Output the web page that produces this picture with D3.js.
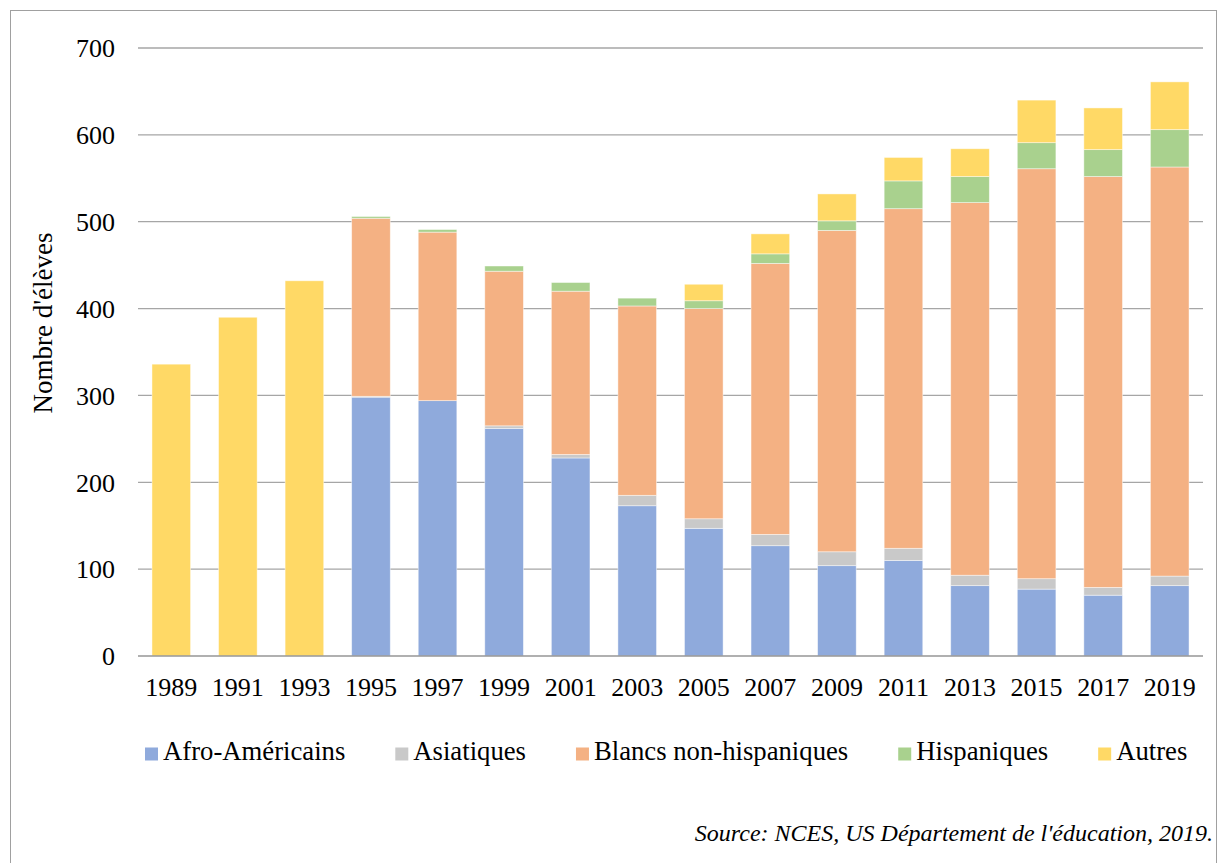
<!DOCTYPE html>
<html>
<head>
<meta charset="utf-8">
<script src="https://cdn.jsdelivr.net/npm/d3@7/dist/d3.min.js"></script>
<style>
  html, body { margin: 0; padding: 0; background: #fff; }
  svg { display: block; }
  text { font-family: "Liberation Serif", "Times New Roman", serif; fill: #000; }
</style>
</head>
<body>
<svg id="chart" width="1221" height="863"></svg>
<script>
// Enrolment by group, every other year
const years = ["1989","1991","1993","1995","1997","1999","2001","2003","2005","2007","2009","2011","2013","2015","2017","2019"];
const afroAmericains = [0, 0, 0, 298, 294, 262, 228, 173, 147, 127, 104, 110, 81, 77, 70, 81];
const asiatiques     = [0, 0, 0, 1, 0, 3, 4, 12, 11, 13, 16, 14, 12, 12, 9, 11];
const blancs         = [0, 0, 0, 205, 194, 178, 188, 218, 242, 312, 370, 391, 429, 472, 473, 471];
const hispaniques    = [0, 0, 0, 2, 3, 6, 10, 9, 9, 11, 11, 32, 30, 30, 31, 43];
const autres         = [336, 390, 432, 0, 0, 0, 0, 0, 19, 23, 31, 27, 32, 49, 48, 55];

const seriesNames = ["Afro-Américains", "Asiatiques", "Blancs non-hispaniques", "Hispaniques", "Autres"];
const seriesValues = [afroAmericains, asiatiques, blancs, hispaniques, autres];
const seriesColors = ["#8FAADC", "#C9C9C9", "#F4B183", "#A9D18E", "#FFD966"];
const yTicks = [0, 100, 200, 300, 400, 500, 600, 700];

const FONT = "'Liberation Serif', 'Times New Roman', serif";
const svg = d3.select("#chart");

// outer frame
svg.append("rect")
  .attr("x", 10.5).attr("y", 10.5)
  .attr("width", 1206).attr("height", 900)
  .attr("fill", "none").attr("stroke", "#a0a0a0").attr("stroke-width", 1);

const x = d3.scaleBand().domain(years).range([138, 1203]).paddingInner(0.42).paddingOuter(0.21);
const y = d3.scaleLinear().domain([0, 700]).range([656, 48]);

// gridlines
svg.append("g").selectAll("line").data(yTicks.filter(t => t > 0)).join("line")
  .attr("x1", 138).attr("x2", 1203)
  .attr("y1", d => y(d)).attr("y2", d => y(d))
  .attr("stroke", "#a6a6a6").attr("stroke-width", 1.3);

// stacked bars
const rows = years.map((yr, i) => {
  const r = { year: yr };
  seriesNames.forEach((n, k) => { r[n] = seriesValues[k][i]; });
  return r;
});
const stacked = d3.stack().keys(seriesNames)(rows);

svg.append("g").selectAll("g").data(stacked).join("g")
  .attr("fill", (d, k) => seriesColors[k])
  .selectAll("rect").data(d => d.filter(p => p[1] - p[0] > 0)).join("rect")
  .attr("x", d => x(d.data.year))
  .attr("width", x.bandwidth())
  .attr("y", d => y(d[1]))
  .attr("height", d => y(d[0]) - y(d[1]))
  .attr("stroke", "#ffffff").attr("stroke-opacity", 0.55).attr("stroke-width", 0.8);

// x axis baseline
svg.append("line")
  .attr("x1", 138).attr("x2", 1203)
  .attr("y1", y(0)).attr("y2", y(0))
  .attr("stroke", "#969696").attr("stroke-width", 1.3);

// y tick labels
const yAxis = d3.axisLeft(y).tickValues(yTicks).tickSize(0).tickPadding(0);
const gy = svg.append("g").attr("transform", "translate(115,0)").call(yAxis)
  .attr("font-family", FONT).attr("font-size", 26);
gy.select(".domain").remove();
gy.selectAll("text").attr("fill", "#000").attr("dy", "0.34em");

// x tick labels
const xAxis = d3.axisBottom(x).tickSize(0).tickPadding(0);
const gx = svg.append("g").attr("transform", "translate(0,696)").call(xAxis)
  .attr("font-family", FONT).attr("font-size", 26);
gx.select(".domain").remove();
gx.selectAll("text").attr("fill", "#000").attr("dy", 0).attr("y", 0);

// y axis title
svg.append("text")
  .attr("transform", "translate(52,323) rotate(-90)")
  .attr("text-anchor", "middle")
  .attr("font-size", 27)
  .text("Nombre d'élèves");

// legend
const legend = svg.append("g");
let lx = 145;
seriesNames.forEach((n, k) => {
  legend.append("rect")
    .attr("x", lx).attr("y", 747.5)
    .attr("width", 13).attr("height", 13)
    .attr("fill", seriesColors[k]);
  const t = legend.append("text")
    .attr("x", lx + 18).attr("y", 760)
    .attr("font-size", 26.7)
    .text(n);
  lx += 18 + t.node().getComputedTextLength() + 50;
});

// source note
svg.append("text")
  .attr("x", 1213).attr("y", 841)
  .attr("text-anchor", "end")
  .attr("font-style", "italic")
  .attr("font-size", 24)
  .text("Source: NCES, US Département de l'éducation, 2019.");
</script>
</body>
</html>
